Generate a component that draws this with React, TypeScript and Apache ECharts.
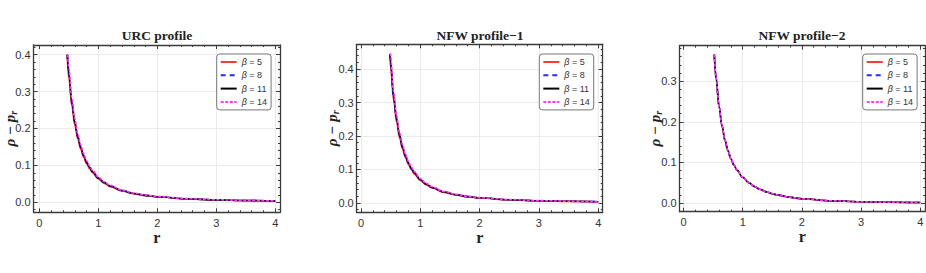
import React, { useEffect, useRef } from 'react';
import * as echarts from 'echarts';

// ---------- data ----------
const betaNames = ['β = 5', 'β = 8', 'β = 11', 'β = 14'];
const panelTitles = ['URC profile', 'NFW profile−1', 'NFW profile−2'];

const xTickLabels = [0, 1, 2, 3, 4];
const yTickLabels1 = [0, 0.1, 0.2, 0.3, 0.4];
const yTickLabels2 = [0, 0.1, 0.2, 0.3, 0.4];
const yTickLabels3 = [0, 0.1, 0.2, 0.3];

// URC profile (r grid after the first point; first r per series in startR1)
const r1 = [0.475, 0.5, 0.55, 0.6, 0.65, 0.7, 0.75, 0.8, 0.85, 0.9, 1.0, 1.1, 1.2, 1.4, 1.6, 1.8, 2.0, 2.5, 3.0, 3.5, 4.0];
const startR1 = [0.47, 0.473, 0.475, 0.48];
const urcB5 = [0.4, 0.335, 0.261, 0.209, 0.172, 0.144, 0.122, 0.1046, 0.0913, 0.0802, 0.0634, 0.0514, 0.0425, 0.0306, 0.0231, 0.0181, 0.0146, 0.0092, 0.0063, 0.0047, 0.0036];
const urcB8 = [0.4, 0.3455, 0.2693, 0.2158, 0.1772, 0.1485, 0.1257, 0.1079, 0.0941, 0.0827, 0.0653, 0.053, 0.0439, 0.0316, 0.0239, 0.0187, 0.015, 0.0095, 0.0065, 0.0049, 0.0037];
const urcB11 = [0.4, 0.349, 0.272, 0.218, 0.179, 0.15, 0.127, 0.109, 0.0951, 0.0835, 0.066, 0.0535, 0.0443, 0.0319, 0.0241, 0.0189, 0.0152, 0.0096, 0.0066, 0.0049, 0.0037];
const urcB14 = [0.4, 0.363, 0.283, 0.2267, 0.1862, 0.156, 0.1321, 0.1134, 0.0989, 0.0868, 0.0686, 0.0556, 0.0461, 0.0332, 0.0251, 0.0197, 0.0158, 0.01, 0.0069, 0.0051, 0.0038];

// NFW profile-1
const r2 = [0.49, 0.5, 0.55, 0.6, 0.65, 0.7, 0.75, 0.8, 0.85, 0.9, 1.0, 1.1, 1.2, 1.4, 1.6, 1.8, 2.0, 2.5, 3.0, 3.5, 4.0];
const startR2 = [0.486, 0.489, 0.49, 0.494];
const nfw1B5 = [0.445, 0.403, 0.307, 0.242, 0.195, 0.161, 0.135, 0.1149, 0.099, 0.0862, 0.0672, 0.054, 0.0444, 0.0315, 0.0236, 0.0183, 0.0147, 0.0092, 0.0063, 0.0047, 0.0036];
const nfw1B8 = [0.445, 0.4158, 0.3168, 0.2495, 0.201, 0.166, 0.1392, 0.1185, 0.1021, 0.0889, 0.0693, 0.0556, 0.0457, 0.0325, 0.0244, 0.0189, 0.0151, 0.0095, 0.0065, 0.0049, 0.0037];
const nfw1B11 = [0.445, 0.42, 0.32, 0.252, 0.203, 0.1677, 0.1406, 0.1197, 0.1031, 0.0898, 0.07, 0.0562, 0.0462, 0.0328, 0.0246, 0.0191, 0.0153, 0.0096, 0.0066, 0.0049, 0.0037];
const nfw1B14 = [0.447, 0.4368, 0.3328, 0.2621, 0.2111, 0.1744, 0.1462, 0.1245, 0.1072, 0.0934, 0.0728, 0.0584, 0.048, 0.0341, 0.0256, 0.0199, 0.0159, 0.01, 0.0069, 0.0051, 0.0038];

// NFW profile-2
const r3 = [0.52, 0.55, 0.6, 0.65, 0.7, 0.75, 0.8, 0.85, 0.9, 1.0, 1.1, 1.2, 1.3, 1.4, 1.5, 1.6, 1.8, 2.0, 2.5, 3.0, 3.5, 4.0];
const startR3 = [0.519, 0.52, 0.52, 0.521];
const nfw2B5 = [0.365, 0.3075, 0.2376, 0.1892, 0.1543, 0.1285, 0.109, 0.0937, 0.0816, 0.0634, 0.0504, 0.0407, 0.0334, 0.0277, 0.0232, 0.0196, 0.0143, 0.0106, 0.0057, 0.0034, 0.00216, 0.00147];
const nfw2B8 = [0.365, 0.3082, 0.2383, 0.1898, 0.1548, 0.129, 0.1094, 0.094, 0.0819, 0.0636, 0.0505, 0.0408, 0.0335, 0.0278, 0.0233, 0.0197, 0.0144, 0.01066, 0.0057, 0.0034, 0.00217, 0.00148];
const nfw2B11 = [0.365, 0.3085, 0.2386, 0.19, 0.155, 0.1291, 0.1095, 0.0941, 0.082, 0.0637, 0.0506, 0.0409, 0.0335, 0.0278, 0.0233, 0.0197, 0.0144, 0.01067, 0.00571, 0.0034, 0.00217, 0.00148];
const nfw2B14 = [0.365, 0.3095, 0.2395, 0.1908, 0.1557, 0.1297, 0.11, 0.0946, 0.0824, 0.064, 0.0508, 0.0411, 0.0337, 0.0279, 0.0234, 0.0198, 0.0145, 0.01072, 0.00574, 0.00342, 0.00218, 0.00149];

// ---------- styles ----------
const seriesColors = ['#ff3a3a', '#2a2aff', '#000000', '#ff3cff'];
const seriesDash: any[] = ['solid', [5, 4], 'solid', [3, 1.5]];
const frameColor = '#3a3a3a';
const labelColor = '#333333';
const gridColor = '#ebebeb';

const panels = [
  { r: r1, start: startR1, ys: [urcB5, urcB8, urcB11, urcB14], yTicks: yTickLabels1, xr: [-0.1, 4.08], yr: [-0.027, 0.426], box: { left: 33.5, top: 45, width: 246.5, height: 167.3 }, nameGap: 15, legendLeft: 216.7, titleX: 157 },
  { r: r2, start: startR2, ys: [nfw1B5, nfw1B8, nfw1B11, nfw1B14], yTicks: yTickLabels2, xr: [-0.072, 4.075], yr: [-0.028, 0.474], box: { left: 356.7, top: 44.3, width: 246, height: 168 }, nameGap: 16, legendLeft: 539.3, titleX: 480 },
  { r: r3, start: startR3, ys: [nfw2B5, nfw2B8, nfw2B11, nfw2B14], yTicks: yTickLabels3, xr: [-0.068, 4.08], yr: [-0.021, 0.387], box: { left: 679.5, top: 45.7, width: 245.5, height: 166 }, nameGap: 16, legendLeft: 862.7, titleX: 802 },
];

function minorValues(lo: number, hi: number, step: number, major: number) {
  const out: number[] = [];
  const n0 = Math.ceil(lo / step - 1e-9);
  const n1 = Math.floor(hi / step + 1e-9);
  for (let i = n0; i <= n1; i++) {
    const v = +(i * step).toFixed(6);
    const k = v / major;
    if (Math.abs(k - Math.round(k)) > 1e-6) out.push(v);
  }
  return out;
}

function makeAxes(dim: 'x' | 'y', gridIndex: number, range: number[], majors: number[], minorStep: number, majorStep: number, p: any) {
  const minors = minorValues(range[0], range[1], minorStep, majorStep);
  const base = {
    type: 'value',
    gridIndex,
    min: range[0],
    max: range[1],
    nameMoveOverlap: false,
    axisLine: { show: false, onZero: false },
    axisLabel: { show: false },
    splitLine: { show: false },
    axisTick: { show: false },
  };
  const posA = dim === 'x' ? 'bottom' : 'left';
  const posB = dim === 'x' ? 'top' : 'right';
  const main: any = {
    ...base,
    position: posA,
    axisLine: { show: true, onZero: false, lineStyle: { color: frameColor, width: 1.3 } },
    axisTick: { show: true, inside: true, length: 4, customValues: majors, lineStyle: { color: frameColor, width: 1 } },
    axisLabel: {
      show: true,
      customValues: majors,
      formatter: (v: number) => (dim === 'x' ? String(Math.round(v)) : v.toFixed(1)),
      margin: dim === 'x' ? 5 : 3,
      fontSize: 11,
      color: labelColor,
      fontFamily: 'Liberation Sans, Arial, sans-serif',
    },
    splitLine: { show: true, lineStyle: { color: gridColor, width: 1 } },
  };
  if (dim === 'x') {
    main.name = 'r';
    main.nameLocation = 'middle';
    main.nameGap = 17;
    main.nameTextStyle = { fontFamily: 'Liberation Serif, serif', fontWeight: 'bold', fontSize: 16, color: '#222' };
  } else {
    main.name = '{a|ρ − p}{c|r}';
    main.nameLocation = 'middle';
    main.nameRotate = 90;
    main.nameGap = p.nameGap;
    const common = { fontFamily: 'Liberation Serif, serif', fontWeight: 'bold', fontStyle: 'italic', color: '#222' };
    main.nameTextStyle = {
      rich: {
        a: { ...common, fontSize: 15 },
        c: { ...common, fontSize: 10, padding: [7, 0, 0, 0] },
      },
    };
  }
  const minorA: any = {
    ...base,
    position: posA,
    axisTick: { show: true, inside: true, length: 2, customValues: minors, lineStyle: { color: frameColor, width: 1 } },
  };
  const majorB: any = {
    ...base,
    position: posB,
    axisLine: { show: true, onZero: false, lineStyle: { color: frameColor, width: 1.3 } },
    axisTick: { show: true, inside: true, length: 4, customValues: majors, lineStyle: { color: frameColor, width: 1 } },
  };
  const minorB: any = {
    ...base,
    position: posB,
    axisTick: { show: true, inside: true, length: 2, customValues: minors, lineStyle: { color: frameColor, width: 1 } },
  };
  return [main, minorA, majorB, minorB];
}

export default function App() {
  const ref = useRef<HTMLDivElement>(null);
  useEffect(() => {
    if (!ref.current) return;
    const chart = echarts.init(ref.current, undefined, { renderer: 'svg' });
    const grids: any[] = [];
    const xAxes: any[] = [];
    const yAxes: any[] = [];
    const series: any[] = [];
    const legends: any[] = [];
    const titles: any[] = [];
    panels.forEach((p, gi) => {
      grids.push({ ...p.box, containLabel: false, outerBoundsMode: 'none' });
      xAxes.push(...makeAxes('x', gi, p.xr, xTickLabels, 0.2, 1, p));
      yAxes.push(...makeAxes('y', gi, p.yr, p.yTicks, 0.02, 0.1, p));
      betaNames.forEach((name, si) => {
        series.push({
          type: 'line',
          name,
          xAxisIndex: gi * 4,
          yAxisIndex: gi * 4,
          data: p.r.map((rv, k) => [k === 0 ? p.start[si] : rv, p.ys[si][k]]),
          showSymbol: false,
          symbol: 'none',
          smooth: 0.35,
          smoothMonotone: 'x',
          lineStyle: { color: seriesColors[si], width: 1.6, type: seriesDash[si] },
          itemStyle: { color: seriesColors[si] },
          z: 2 + si,
        });
      });
      legends.push({
        data: betaNames,
        orient: 'vertical',
        left: p.legendLeft,
        top: 54,
        backgroundColor: '#ffffff',
        borderColor: '#777777',
        borderWidth: 1,
        borderRadius: 3,
        padding: [3, 4, 3, 3],
        itemWidth: 16,
        itemHeight: 10,
        itemGap: 3.3,
        selectedMode: false,
        itemStyle: { color: 'rgba(0,0,0,0)', borderWidth: 0, opacity: 0 },
        formatter: (n: string) => '{i|β}' + n.slice(1),
        textStyle: {
          fontSize: 9,
          color: '#333',
          fontFamily: 'Liberation Sans, Arial, sans-serif',
          lineHeight: 10,
          rich: { i: { fontStyle: 'italic', fontSize: 9, fontFamily: 'Liberation Sans, Arial, sans-serif', color: '#333' } },
        },
      });
      titles.push({
        text: panelTitles[gi],
        left: p.titleX,
        top: 28,
        textAlign: 'center',
        padding: 0,
        textStyle: { fontFamily: 'Liberation Serif, serif', fontWeight: 'bold', fontSize: 13.5, color: '#222' },
      });
    });
    chart.setOption({
      animation: false,
      backgroundColor: '#ffffff',
      title: titles,
      legend: legends,
      grid: grids,
      xAxis: xAxes,
      yAxis: yAxes,
      series,
    });
    return () => chart.dispose();
  }, []);
  return <div ref={ref} style={{ position: 'fixed', left: 0, top: 0, width: 926, height: 273 }} />;
}
